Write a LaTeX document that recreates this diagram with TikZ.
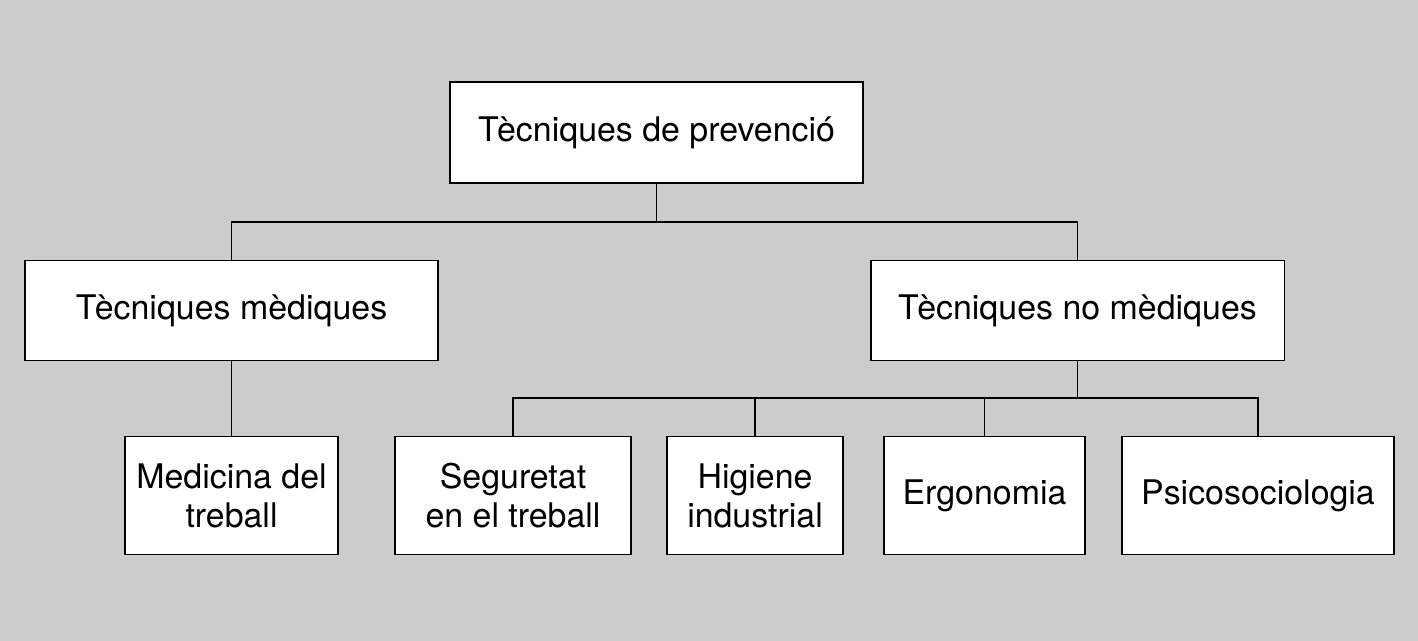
\documentclass[tikz,border=0pt]{standalone}
\usepackage{fontspec}
\setmainfont{TeX Gyre Heros}
\definecolor{fons}{RGB}{204,204,204}
\tikzset{
  caixa/.style 2 args={draw, fill=white, line width=1.1pt, inner sep=0pt,
    minimum width=#1, minimum height=#2, align=center,
    font=\fontsize{19.3}{22.3}\selectfont},
  lligam/.style={line width=1.1pt},
}
\begin{document}
\begin{tikzpicture}[x=0.02cm,y=-0.02cm]
    \fill[fons] (0,0) rectangle (1418,641);
    
    % Caixes
    \node[caixa={8.28cm}{2.02cm}] (prev) at (656.5,132.5) {Tècniques de prevenció};
    \node[caixa={8.28cm}{2cm}] (med) at (231.5,310.5) {Tècniques mèdiques};
    \node[caixa={8.28cm}{2cm}] (nomed) at (1077.5,310.5) {Tècniques no mèdiques};
    \node[caixa={4.26cm}{2.36cm}] (medtreb) at (231.5,495.5) {Medicina del\\treball};
    \node[caixa={4.72cm}{2.36cm}] (segur) at (513,495.5) {Seguretat\\en el treball};
    \node[caixa={3.52cm}{2.36cm}] (higiene) at (755,495.5) {Higiene\\industrial};
    \node[caixa={4.02cm}{2.36cm}] (ergo) at (984.5,495.5) {Ergonomia};
    \node[caixa={5.44cm}{2.36cm}] (psico) at (1258,495.5) {Psicosociologia};
    
    % Lligams
    \coordinate (bus1) at (656.5,222);
    \coordinate (bus2) at (1077.5,398);
    \draw[lligam] (prev.south) -- (bus1) -| (med.north);
    \draw[lligam] (bus1) -| (nomed.north);
    \draw[lligam] (med.south) -- (medtreb.north);
    \draw[lligam] (nomed.south) -- (bus2);
    \foreach \n in {segur,higiene,ergo,psico}
        \draw[lligam] (bus2) -| (\n.north);
\end{tikzpicture}
\end{document}
